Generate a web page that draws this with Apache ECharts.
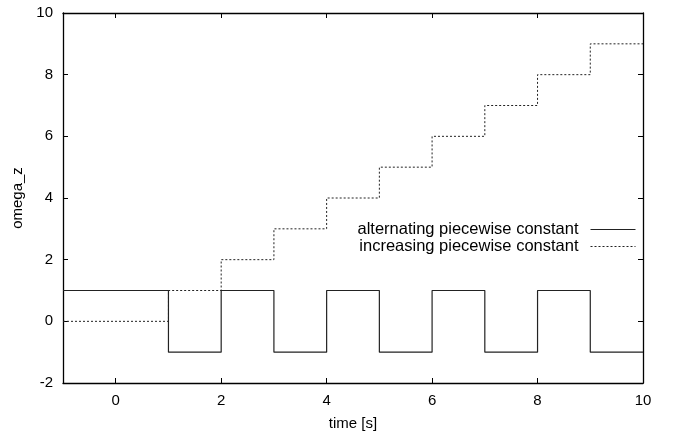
<!DOCTYPE html>
<html><head><meta charset="utf-8">
<script src="https://cdn.jsdelivr.net/npm/echarts@6/dist/echarts.min.js"></script>
<style>html,body{margin:0;padding:0;background:#fff}#c{width:675px;height:434px}</style>
</head><body><div id="c"></div>
<script>
// step breakpoints (time in s)
var times = [-1, 1, 2, 3, 4, 5, 6, 7, 8, 9, 10];
var alternating = [1, -1, 1, -1, 1, -1, 1, -1, 1, -1, -1];
var increasing = [0, 1, 2, 3, 4, 5, 6, 7, 8, 9, 9];
var xTicks = [0, 2, 4, 6, 8, 10];
var yTicks = [-2, 0, 2, 4, 6, 8, 10];
var seriesNames = ['alternating piecewise constant', 'increasing piecewise constant'];

function pairs(ys){ return times.map(function(t,i){ return [t, ys[i]]; }); }
var font = 'Liberation Sans, Arial, Helvetica, sans-serif';
function axLine(){ return {show:true,onZero:false,lineStyle:{color:'#000',width:1.3}}; }
function ticks(vals){ return {show:true,inside:true,length:5,customValues:vals,lineStyle:{color:'#000',width:1}}; }
var chart = echarts.init(document.getElementById('c'), null, {renderer:'canvas'});
chart.setOption({
  animation:false,
  backgroundColor:'#fff',
  grid:{left:63,right:32,top:13,bottom:51,containLabel:false,outerBoundsMode:'none'},
  legend:{
    orient:'vertical', right:34, top:216, align:'right',
    itemWidth:45, itemHeight:10, itemGap:0,
    itemStyle:{color:'transparent',borderColor:'transparent',borderWidth:0,opacity:0},
    lineStyle:{width:1},
    textStyle:{fontFamily:font,fontSize:16.5,color:'#000',padding:[0,7,0,0]},
    data:seriesNames
  },
  xAxis:[
    {type:'value',min:-1,max:10,position:'bottom',
      name:'time [s]',nameLocation:'middle',nameGap:33,
      nameTextStyle:{fontFamily:font,fontSize:15,color:'#000'},
      axisLine:axLine(), splitLine:{show:false}, axisTick:ticks(xTicks),
      axisLabel:{show:true,customValues:xTicks,margin:10,fontFamily:font,fontSize:15,color:'#000'}
    },
    {type:'value',min:-1,max:10,position:'top',
      axisLine:axLine(), splitLine:{show:false}, axisTick:ticks(xTicks),
      axisLabel:{show:false}
    }
  ],
  yAxis:[
    {type:'value',min:-2,max:10,interval:2,position:'left',
      name:'omega_z',nameLocation:'middle',nameGap:38,
      nameTextStyle:{fontFamily:font,fontSize:15,color:'#000'},
      axisLine:axLine(), splitLine:{show:false}, axisTick:ticks(yTicks),
      axisLabel:{show:true,customValues:yTicks,margin:10,fontFamily:font,fontSize:15,color:'#000'}
    },
    {type:'value',min:-2,max:10,interval:2,position:'right',
      axisLine:axLine(), splitLine:{show:false}, axisTick:ticks(yTicks),
      axisLabel:{show:false}
    }
  ],
  series:[
    {name:seriesNames[0],type:'line',step:'end',data:pairs(alternating),
     symbol:'none',lineStyle:{color:'#222',width:1.2,type:'solid'},itemStyle:{color:'#222'}},
    {name:seriesNames[1],type:'line',step:'end',data:pairs(increasing),
     symbol:'none',lineStyle:{color:'#222',width:1,type:[2,2]},itemStyle:{color:'#222'}}
  ]
});
</script></body></html>
